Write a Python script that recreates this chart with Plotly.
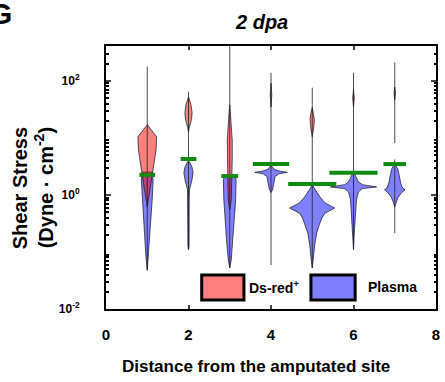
import plotly.graph_objects as go

# ---------------- data ----------------
sites = [1, 2, 3, 4, 5, 6, 7]

# Ds-red+ density profiles: log10(shear stress) levels and relative half-widths
dsred_log10 = [
    [1.23, 1.02, 0.79, 0.61, 0.39, 0.09, -0.21],
    [1.72, 1.58, 1.44, 1.32, 1.18, 1.10],
    [1.58, 1.32, 0.96, 0.61, 0.33, -0.09, -0.26],
    [1.96, 1.75, 1.54],
    [1.53, 1.40, 1.32, 1.18, 1.02],
    [1.84, 1.70, 1.54],
    [1.89, 1.79, 1.67],
]
dsred_density = [
    [0, 9.5, 9, 7.5, 5.5, 2.8, 0],
    [0, 2.5, 3.7, 3, 0.8, 0],
    [0, 1.2, 2.5, 2.5, 2, 1.5, 0],
    [0, 0.8, 0],
    [0, 1.8, 2.2, 1.5, 0],
    [0, 0.8, 0],
    [0, 0.7, 0],
]

# Plasma density profiles
plasma_log10 = [
    [0.40, 0.26, -0.09, -0.61, -1.05, -1.32],
    [0.58, 0.49, 0.39, 0.26, 0.09, -0.09, -0.90, -0.96],
    [0.32, 0.26, -0.09, -0.35, -0.79, -1.14, -1.28],
    [0.50, 0.45, 0.42, 0.395, 0.37, 0.32, 0.21, 0.09, 0.04],
    [0.16, 0.09, -0.04, -0.14, -0.23, -0.32, -0.40, -0.53, -0.67, -0.88, -1.11, -1.28],
    [0.39, 0.30, 0.23, 0.18, 0.14, 0.11, 0.05, -0.09, -0.32, -0.61, -0.96],
    [0.53, 0.46, 0.35, 0.21, 0.12, 0.09, 0.04, -0.04, -0.14, -0.21],
]
plasma_density = [
    [5, 6, 5, 3, 1.5, 0],
    [1, 3.5, 4.7, 3.5, 1, 0.7, 0.6, 0],
    [5.5, 6.5, 6, 5, 3.3, 1.5, 0],
    [1, 3, 8, 16.5, 8, 4, 3, 1.5, 0],
    [0.5, 3, 8, 13, 23, 13, 10, 7, 4.5, 2.5, 1.2, 0],
    [0.5, 3, 5, 9, 23.5, 9, 5, 3, 1.8, 1, 0],
    [0.5, 3, 4.5, 6, 8, 10.5, 7, 3.5, 1.2, 0],
]

# whisker extent (log10) and a visible gap in the whisker (log10), if any
whisker_low_log10 = [-1.32, -0.96, -1.28, -1.23, -1.28, -0.96, -0.67]
whisker_high_log10 = [2.25, 1.81, 2.70, 2.14, 1.88, 2.14, 2.32]
whisker_gap_log10 = [None, None, None, None, None, None, (0.62, 0.91)]

# mean shear stress (log10) and the drawn length of each mean bar
mean_log10 = [0.35, 0.63, 0.33, 0.54, 0.19, 0.39, 0.54]
mean_bar_half = [8, 8, 8.5, 18.5, 24.5, 24.5, 11.5]

x_ticks = [0, 2, 4, 6, 8]
y_ticks = [0.01, 1, 100]
y_ticktext = ["10<sup>-2</sup>", "10<sup>0</sup>", "10<sup>2</sup>"]

# ---------------- style ----------------
WIDTH_SCALE = 1 / 42.0
RED_FILL = "rgba(255,0,0,0.5)"
BLUE_FILL = "rgba(0,0,255,0.5)"
OUTLINE = "rgba(20,20,40,0.8)"
GREEN = "rgb(16,140,16)"
FONT = "Arial, Liberation Sans, sans-serif"

fig = go.Figure()


def violin_trace(pos, levels, dens, fill):
    xs_r = [pos + d * WIDTH_SCALE for d in dens]
    xs_l = [pos - d * WIDTH_SCALE for d in reversed(dens)]
    ys = [10 ** v for v in levels]
    return go.Scatter(
        x=xs_r + xs_l + [xs_r[0]],
        y=ys + list(reversed(ys)) + [ys[0]],
        mode="lines", fill="toself", fillcolor=fill,
        line=dict(color=OUTLINE, width=0.9),
        hoverinfo="skip", showlegend=False,
    )


# plasma first, Ds-red drawn on top
for i, pos in enumerate(sites):
    fig.add_trace(violin_trace(pos, plasma_log10[i], plasma_density[i], BLUE_FILL))
for i, pos in enumerate(sites):
    fig.add_trace(violin_trace(pos, dsred_log10[i], dsred_density[i], RED_FILL))

# whiskers
for i, pos in enumerate(sites):
    lo, hi = whisker_low_log10[i], whisker_high_log10[i]
    gap = whisker_gap_log10[i]
    if gap is None:
        xs, ys = [pos, pos], [10 ** lo, 10 ** hi]
    else:
        xs = [pos, pos, None, pos, pos]
        ys = [10 ** lo, 10 ** gap[0], None, 10 ** gap[1], 10 ** hi]
    fig.add_trace(go.Scatter(x=xs, y=ys, mode="lines",
                             line=dict(color="rgba(30,30,30,0.8)", width=1),
                             hoverinfo="skip", showlegend=False))

# mean bars
for i, pos in enumerate(sites):
    h = mean_bar_half[i] * WIDTH_SCALE
    fig.add_trace(go.Scatter(x=[pos - h, pos + h], y=[10 ** mean_log10[i]] * 2,
                             mode="lines", line=dict(color=GREEN, width=4),
                             hoverinfo="skip", showlegend=False))

minor_vals = [m * 10 ** k for k in range(-2, 3) for m in range(2, 10)]

fig.update_layout(
    width=445, height=382,
    margin=dict(l=106, r=5, t=46, b=73),
    paper_bgcolor="white", plot_bgcolor="white",
    font=dict(family=FONT, color="black"),
    showlegend=False,
    xaxis=dict(
        range=[0, 8], tickvals=x_ticks, ticks="inside", ticklen=4,
        tickwidth=1.5, showline=True, linecolor="black", linewidth=2,
        mirror="allticks", showgrid=False, zeroline=False,
        tickfont=dict(size=15, family=FONT, weight="bold"),
        ticklabelstandoff=11, ticklabeloverflow="allow",
    ),
    yaxis=dict(
        type="log", range=[-2, 2.61], tickvals=y_ticks, ticktext=y_ticktext,
        ticks="inside", ticklen=5, tickwidth=1.5,
        showline=True, linecolor="black", linewidth=2,
        mirror="allticks", showgrid=False, zeroline=False,
        tickfont=dict(size=12, family=FONT, weight="bold"),
        ticklabelstandoff=22,
        minor=dict(tickvals=minor_vals, ticks="inside", ticklen=2.5,
                   tickcolor="black", showgrid=False),
    ),
)

# titles and panel letter
fig.add_annotation(text="<b><i>2 dpa</i></b>", xref="paper", yref="paper",
                   x=0.47, y=1.0, yshift=24, showarrow=False,
                   font=dict(size=20, family=FONT), xanchor="center", yanchor="middle")
fig.add_annotation(text="<b>G</b>", xref="paper", yref="paper",
                   x=-0.36, y=1.0, yshift=33, showarrow=False,
                   font=dict(size=30, family=FONT), xanchor="left", yanchor="middle")
fig.add_annotation(text="<b>Distance from the amputated site</b>", xref="paper", yref="paper",
                   x=0.455, y=0.0, yshift=-57, showarrow=False,
                   font=dict(size=17, family=FONT), xanchor="center", yanchor="middle")
fig.add_annotation(text="<b>Shear Stress</b>",
                   xref="paper", yref="paper", x=-0.26, y=0.46, showarrow=False,
                   textangle=-90, font=dict(size=20, family=FONT),
                   xanchor="center", yanchor="middle")
fig.add_annotation(text="<b>(Dyne · cm<sup>-2</sup>)</b>",
                   xref="paper", yref="paper", x=-0.19, y=0.46, showarrow=False,
                   textangle=-90, font=dict(size=20, family=FONT),
                   xanchor="center", yanchor="middle")

# legend boxes
fig.add_shape(type="rect", xref="paper", yref="paper", x0=0.290, x1=0.418,
              y0=0.034, y1=0.129, fillcolor="rgb(255,128,128)",
              line=dict(color="black", width=3))
fig.add_shape(type="rect", xref="paper", yref="paper", x0=0.621, x1=0.755,
              y0=0.034, y1=0.129, fillcolor="rgb(128,128,255)",
              line=dict(color="black", width=3))
fig.add_annotation(text="<b>Ds-red<sup>+</sup></b>", xref="paper", yref="paper",
                   x=0.428, y=0.084, showarrow=False, xanchor="left", yanchor="middle",
                   font=dict(size=14, family=FONT))
fig.add_annotation(text="<b>Plasma</b>", xref="paper", yref="paper",
                   x=0.788, y=0.084, showarrow=False, xanchor="left", yanchor="middle",
                   font=dict(size=14, family=FONT))

fig.write_html("out.html", config={"displayModeBar": False},
               post_script="document.body.style.margin='0';")
